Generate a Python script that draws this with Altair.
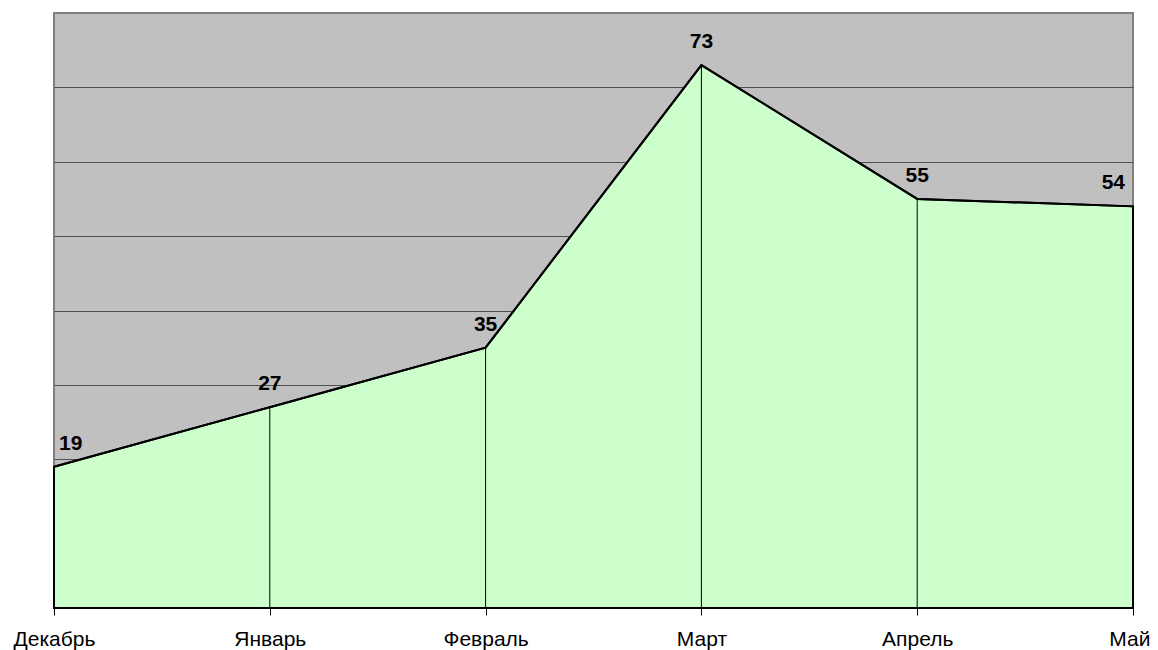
import altair as alt
import pandas as pd

months = ["Декабрь", "Январь", "Февраль", "Март", "Апрель", "Май"]
values = [19, 27, 35, 73, 55, 54]

df = pd.DataFrame({"month": months, "value": values})
df["zero"] = 0
df["align"] = ["left"] + ["center"] * (len(months) - 2) + ["right"]

FONT = "Liberation Sans"
last = months[-1]

x = alt.X("month:N", sort=months, scale=alt.Scale(type="point", padding=0),
          axis=alt.Axis(title=None, labelAngle=0, labelFont=FONT, labelFontSize=21,
                        labelColor="black", domainColor="black", domainWidth=1,
                        tickColor="black", tickSize=7, labelPadding=13, grid=False,
                        labelAlign=alt.condition(f"datum.value == '{last}'",
                                                 alt.value("right"), alt.value("center")),
                        labelOffset=alt.condition(f"datum.value == '{last}'",
                                                  alt.value(17), alt.value(0))))
y = alt.Y("value:Q", scale=alt.Scale(domain=[0, 80], nice=False, zero=True),
          axis=alt.Axis(title=None, labels=False, ticks=False, domain=False,
                        values=[10, 20, 30, 40, 50, 60, 70], grid=True,
                        gridColor="#505050", gridWidth=1))

base = alt.Chart(df)

area = base.mark_area(color="#CCFFCC", stroke="black", strokeWidth=2).encode(x=x, y=y)

rules = base.mark_rule(color="black", strokeWidth=1).encode(
    x=alt.X("month:N", sort=months), y=alt.Y("value:Q"), y2="zero:Q")

outline = base.mark_line(color="black", strokeWidth=2).encode(
    x=alt.X("month:N", sort=months), y=alt.Y("value:Q"))

def lab(al, dx):
    return base.transform_filter(alt.datum.align == al).mark_text(
        font=FONT, fontSize=21, fontWeight="bold", color="black", align=al,
        baseline="alphabetic", dy=-17, dx=dx
    ).encode(x=alt.X("month:N", sort=months), y=alt.Y("value:Q"), text="value:Q")

labels = lab("left", 5) + lab("center", 0) + lab("right", -8)

chart = alt.layer(area, rules, outline, labels).properties(
    width=1079, height=595,
    padding={"left": 46, "top": 5, "right": 17, "bottom": 42},
    autosize=alt.AutoSizeParams(type="none"),
    background="white",
).configure_view(fill="#C0C0C0", stroke="#808080", strokeWidth=2)

chart.save("out.html", embed_options={"renderer": "svg", "actions": False})
